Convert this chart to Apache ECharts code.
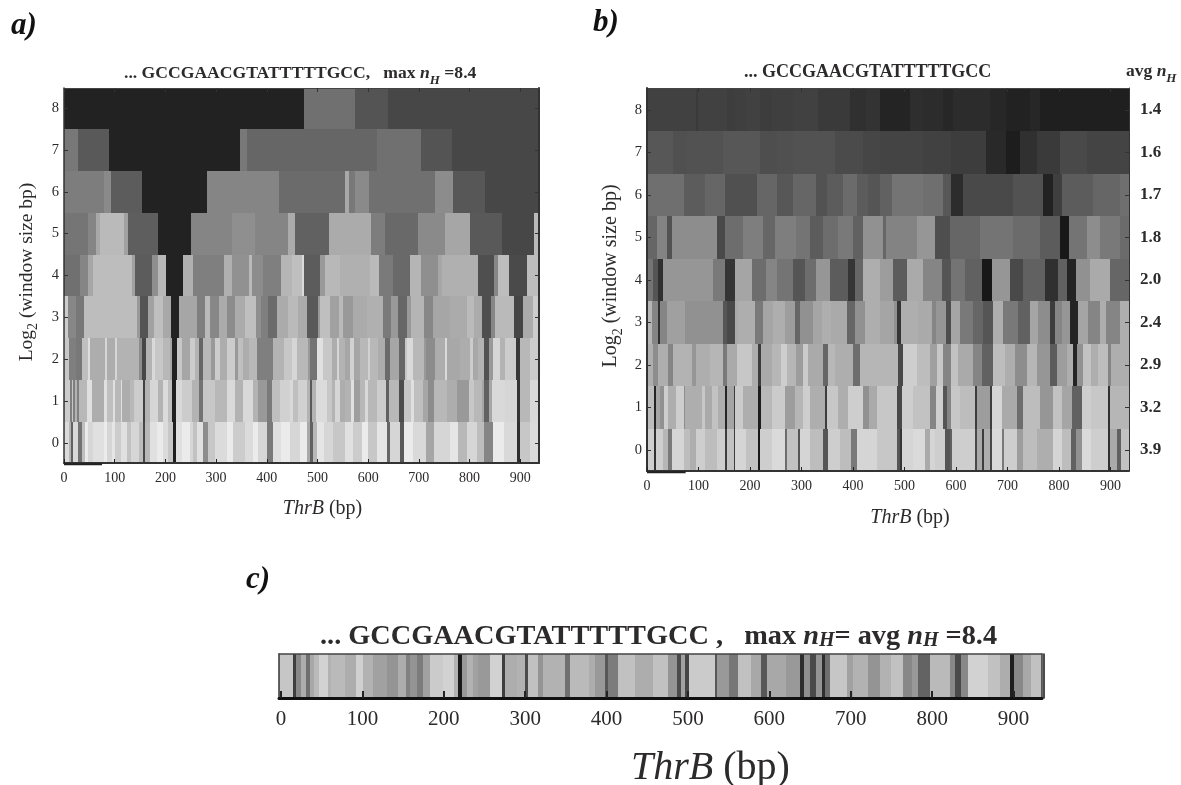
<!DOCTYPE html>
<html><head><meta charset="utf-8">
<style>html,body{margin:0;padding:0;background:#fff}#c{width:1181px;height:785px}</style>
<script src="https://cdn.jsdelivr.net/npm/echarts@6/dist/echarts.min.js"></script>
</head><body><div id="c"></div>
<script>
// Each row: pairs of (end position in bp, brightness level in percent)
const xTicks=[0,100,200,300,400,500,600,700,800,900];
const yTicks=[0,1,2,3,4,5,6,7,8];
const avgNh=['3.9','3.2','2.9','2.4','2.0','1.8','1.7','1.6','1.4'];
const stubEnd=[0,75];

const a8=[473,13.5, 574,44, 639,33, 937,28];
const a7=[28,47, 88,35, 347,13.5, 361,47, 617,40, 704,44, 766,33, 937,28];
const a6=[79,49, 93,54, 153,36, 283,13.5, 425,52, 554,42, 563,66, 574,47, 602,54, 732,44, 768,55, 830,34, 937,28];
const a5=[48,46, 63,52, 71,66, 118,73, 126,63, 185,37, 250,13.5, 331,52, 377,56, 442,52, 456,67, 523,38, 605,67, 633,49, 699,41, 751,54, 801,65, 864,35, 927,28, 937,73];
const a4=[32,44, 48,52, 57,65, 134,74, 140,63, 173,36, 185,56, 201,72, 235,13.5, 255,69, 316,50, 331,69, 365,57, 371,73, 393,55, 428,50, 450,71, 469,75, 473,86, 505,36, 515,60, 544,72, 604,69, 621,73, 649,48, 682,41, 704,71, 737,56, 746,65, 816,69, 848,31, 857,53, 878,74, 913,29, 937,74];
const a3=[8,80, 24,53, 39,47, 144,74, 150,60, 166,33, 178,63, 195,75, 211,66, 227,13.5, 262,65, 278,50, 288,73, 306,53, 321,67, 337,55, 358,67, 379,75, 388,56, 403,50, 420,42, 442,67, 461,73, 479,67, 501,35, 505,60, 525,75, 542,63, 550,73, 570,60, 598,67, 630,69, 645,48, 659,60, 676,40, 684,60, 710,71, 728,53, 761,65, 795,67, 809,73, 824,67, 842,31, 850,53, 874,73, 888,73, 905,27, 925,67, 937,80];
const a2=[10,78, 24,50, 35,47, 48,75, 51,87, 81,68, 84,84, 101,68, 104,84, 147,70, 153,55, 162,28, 173,70, 180,85, 196,78, 209,72, 214,65, 222,13, 232,78, 249,65, 258,80, 267,70, 274,40, 289,72, 298,60, 308,80, 321,68, 337,80, 344,60, 354,75, 364,68, 381,72, 413,50, 433,70, 449,78, 459,84, 482,72, 485,60, 500,45, 510,88, 528,78, 538,68, 543,84, 554,70, 564,65, 572,82, 583,65, 599,72, 604,82, 620,72, 633,68, 643,42, 661,65, 673,40, 677,78, 689,85, 711,72, 715,60, 732,55, 751,68, 756,85, 781,66, 801,68, 807,80, 817,66, 829,70, 838,32, 847,60, 860,84, 870,70, 891,80, 899,22, 919,72, 937,80];
const a1=[12,80, 15,50, 18,78, 22,50, 26,70, 30,50, 45,72, 55,88, 78,68, 85,88, 97,75, 101,88, 112,72, 115,88, 130,68, 138,72, 155,80, 160,25, 170,70, 186,84, 196,70, 206,86, 214,75, 221,12, 232,85, 252,80, 267,70, 275,45, 298,78, 321,72, 337,85, 354,70, 373,85, 383,70, 400,60, 410,48, 426,75, 446,82, 452,85, 462,75, 479,82, 485,70, 490,35, 498,70, 518,86, 528,78, 535,70, 544,84, 554,68, 567,70, 572,88, 584,62, 594,72, 600,85, 617,72, 635,80, 642,38, 661,72, 671,30, 684,78, 690,88, 709,75, 719,65, 729,55, 755,72, 775,68, 798,60, 808,78, 824,72, 829,65, 838,38, 844,65, 870,85, 893,84, 899,20, 919,72, 937,85];
const a0=[9,86, 14,70, 18,38, 28,85, 35,45, 41,75, 48,92, 58,84, 78,88, 85,92, 94,84, 101,90, 112,80, 124,88, 133,76, 147,84, 155,74, 160,28, 170,72, 183,88, 196,92, 206,86, 216,78, 220,12, 232,88, 249,92, 255,84, 263,76, 275,88, 285,55, 298,78, 321,86, 334,92, 357,80, 373,86, 383,92, 400,84, 412,48, 429,88, 446,92, 466,84, 479,92, 485,66, 491,38, 500,72, 512,90, 531,84, 554,78, 571,88, 587,80, 600,92, 618,78, 637,90, 643,40, 663,84, 671,35, 689,92, 715,85, 729,65, 761,84, 778,90, 794,72, 814,84, 829,74, 847,52, 867,92, 893,85, 899,18, 919,78, 937,86];
const aRows=[a0,a1,a2,a3,a4,a5,a6,a7,a8];

const b8=[96,27, 100,24, 155,27, 171,25, 193,26, 219,27, 242,25, 284,26, 333,27, 394,24, 426,20, 453,21, 511,15, 536,19, 575,18, 595,16, 666,18, 698,16, 744,14, 763,16, 937,13];
const b7=[51,36, 77,33, 148,34, 219,36, 252,32, 284,33, 365,34, 420,31, 453,29, 491,28, 536,28, 591,27, 659,25, 698,17, 724,12, 757,20, 802,24, 854,30, 937,28];
const b6=[71,46, 113,38, 151,42, 213,33, 252,42, 284,36, 329,42, 349,34, 381,38, 407,44, 430,38, 453,35, 475,40, 536,48, 575,46, 591,36, 614,18, 653,30, 711,30, 769,34, 789,14, 805,26, 867,38, 918,42, 937,46];
const b5=[19,42, 38,54, 48,34, 135,58, 151,30, 187,45, 226,52, 248,42, 290,52, 316,48, 342,38, 371,45, 400,50, 420,40, 459,60, 465,42, 524,54, 559,62, 588,32, 647,42, 711,48, 763,44, 802,38, 820,10, 854,48, 879,58, 918,50, 937,44];
const b4=[12,48, 22,35, 32,20, 129,62, 151,50, 171,22, 203,68, 232,45, 252,55, 284,48, 307,35, 329,45, 355,62, 391,38, 404,22, 420,42, 452,72, 478,65, 504,38, 536,70, 572,55, 591,35, 617,48, 650,40, 669,10, 705,62, 731,30, 773,40, 799,20, 815,40, 834,15, 860,60, 899,70, 937,42];
const b3=[9,75, 21,55, 25,20, 38,55, 74,66, 148,60, 155,35, 171,30, 177,70, 210,72, 226,50, 245,68, 268,72, 287,65, 298,42, 323,60, 339,68, 358,72, 388,70, 404,42, 423,60, 452,72, 480,68, 486,60, 494,22, 527,72, 553,70, 562,55, 581,62, 590,32, 608,68, 634,50, 653,42, 672,35, 692,72, 721,50, 744,40, 760,68, 782,58, 792,25, 805,55, 821,62, 837,15, 857,68, 879,55, 892,72, 918,55, 937,72];
const b2=[12,72, 22,58, 41,72, 51,55, 87,74, 96,62, 122,72, 148,75, 156,50, 174,70, 203,82, 216,72, 221,25, 242,70, 261,75, 272,85, 290,75, 303,65, 313,84, 342,70, 352,42, 365,76, 400,72, 413,45, 446,75, 488,75, 498,30, 524,85, 549,78, 564,66, 575,82, 591,55, 604,80, 634,70, 650,55, 672,40, 695,78, 714,72, 737,58, 757,75, 782,62, 797,38, 815,65, 828,72, 835,15, 847,60, 863,80, 876,72, 896,78, 902,55, 937,72];
const b1=[14,78, 17,15, 25,68, 33,60, 41,85, 56,72, 71,85, 74,58, 106,72, 113,82, 126,70, 138,80, 151,72, 155,15, 168,68, 171,25, 187,84, 216,72, 221,12, 242,76, 268,84, 287,65, 303,75, 316,85, 345,72, 350,25, 371,82, 391,72, 420,85, 432,60, 446,70, 485,82, 496,30, 517,85, 549,80, 561,55, 575,85, 582,35, 591,55, 608,82, 637,78, 641,25, 666,65, 670,25, 689,88, 718,70, 731,45, 763,78, 789,62, 805,80, 826,68, 844,40, 863,85, 896,82, 900,20, 937,75];
const b0=[14,85, 17,20, 32,85, 41,75, 48,50, 71,88, 83,78, 96,72, 113,85, 135,78, 151,85, 155,25, 169,80, 171,25, 193,88, 216,80, 220,10, 242,85, 268,90, 271,45, 294,80, 298,35, 316,88, 342,78, 352,35, 375,85, 397,78, 407,50, 446,88, 485,82, 491,35, 496,22, 517,88, 540,90, 549,70, 559,88, 579,85, 588,35, 593,40, 637,85, 641,30, 650,70, 654,25, 666,72, 670,30, 689,90, 693,50, 718,85, 731,65, 757,78, 789,72, 805,88, 824,78, 834,40, 844,60, 863,90, 896,85, 900,20, 913,70, 920,40, 937,80];
const bRows=[b0,b1,b2,b3,b4,b5,b6,b7,b8];

const c0=[15,80, 19,25, 25,55, 31,70, 35,45, 41,68, 47,75, 58,85, 62,72, 79,75, 92,70, 101,84, 113,72, 130,65, 144,60, 154,70, 158,52, 159,15, 167,60, 175,50, 183,65, 199,82, 212,85, 218,72, 222,10, 228,62, 236,72, 242,65, 257,62, 272,85, 275,25, 290,70, 300,72, 303,30, 316,78, 322,60, 349,72, 355,45, 378,75, 386,70, 398,62, 402,35, 414,50, 435,78, 457,70, 476,78, 486,60, 492,30, 496,65, 501,28, 533,82, 536,35, 550,62, 562,48, 578,78, 590,68, 597,35, 621,68, 638,62, 642,18, 650,58, 657,30, 665,60, 668,18, 674,45, 695,80, 703,65, 721,72, 736,60, 750,72, 764,78, 775,55, 783,62, 797,40, 822,75, 828,55, 836,30, 844,55, 869,85, 883,78, 896,70, 900,12, 912,55, 922,68, 937,78];
const cRows=[c0];

const FONT='"Liberation Serif","Times New Roman",serif';
const INK='#2c2a2b';

function cellsOf(rows,start,gain){
  const out=[];
  rows.forEach((row,r)=>{
    let x0=start;
    for(let i=0;i<row.length;i+=2){ out.push([x0,row[i],r,row[i+1]*gain]); x0=row[i]; }
  });
  return out;
}
function grey(l){const v=Math.round(l*2.55);return 'rgb('+v+','+v+','+v+')';}
function stripRender(params,api){
  const y=api.value(2);
  const p0=api.coord([api.value(0),y+0.5]);
  const p1=api.coord([api.value(1),y-0.5]);
  const x=Math.round(p0[0]),w=Math.round(p1[0])-x;
  return {type:'rect',shape:{x:x,y:Math.round(p0[1]),width:w,height:Math.round(p1[1])-Math.round(p0[1])},
    style:{fill:grey(api.value(3))}};
}
function cellSeries(idx,data){
  return {type:'custom',xAxisIndex:idx.x,yAxisIndex:idx.y,data:data,renderItem:stripRender,
    encode:{x:[0,1],y:2},clip:true,progressive:0,silent:true,z:1};
}
function rich(sz,extra){
  const lh=sz+extra;
  return {
    b:{fontFamily:FONT,fontWeight:'bold',fontSize:sz,color:INK,lineHeight:lh,verticalAlign:'top'},
    i:{fontFamily:FONT,fontWeight:'bold',fontStyle:'italic',fontSize:sz,color:INK,lineHeight:lh,verticalAlign:'top'},
    s:{fontFamily:FONT,fontWeight:'bold',fontStyle:'italic',fontSize:Math.round(sz*.72),color:INK,lineHeight:Math.round(sz*.72),verticalAlign:'bottom'}
  };
}
function nameRich(sz){
  return {
    r:{fontFamily:FONT,fontSize:sz,color:INK,lineHeight:sz+4,verticalAlign:'top'},
    t:{fontFamily:FONT,fontStyle:'italic',fontSize:sz,color:INK,lineHeight:sz+4,verticalAlign:'top'},
    s:{fontFamily:FONT,fontSize:Math.round(sz*.7),color:INK,lineHeight:Math.round(sz*.7),verticalAlign:'bottom'}
  };
}
function title(text,left,top,sz,extra){
  return {text:text,left:left,top:top,padding:0,textStyle:{rich:rich(sz,extra===undefined?6:extra),fontFamily:FONT,fontWeight:'bold',fontSize:sz,color:INK}};
}
function partLabel(text,left,top){
  return {text:text,left:left,top:top,padding:0,textStyle:{fontFamily:FONT,fontWeight:'bold',fontStyle:'italic',fontSize:31,color:'#111'}};
}
const line=(w,c)=>({show:true,onZero:false,lineStyle:{color:c||'#333',width:w}});
function xPair(g,min,max,o){
  return [
    {type:'value',gridIndex:g,position:'bottom',z:5,min:min,max:max,name:'{t|ThrB} {r|(bp)}',nameLocation:'middle',nameGap:o.nameGap,
     nameTextStyle:{rich:nameRich(o.nameSize),fontFamily:FONT,fontSize:o.nameSize,padding:[0,0,0,o.nameShift]},
     axisLine:line(o.lineW,o.lineC),splitLine:{show:false},
     axisTick:{show:true,inside:true,length:o.tick,lineStyle:{color:'#222',width:o.tickW},customValues:xTicks},
     axisLabel:{show:true,customValues:xTicks,margin:o.labelMargin,fontFamily:FONT,fontSize:o.labelSize,color:INK,showMinLabel:true,showMaxLabel:true,hideOverlap:false}},
    {type:'value',gridIndex:g,position:'top',z:5,min:min,max:max,
     axisLine:line(o.topW,'#444'),splitLine:{show:false},axisLabel:{show:false},
     axisTick:{show:o.topTick,inside:true,length:4,lineStyle:{color:'#333',width:1},customValues:xTicks}}
  ];
}
function yPair(g,min,max,o){
  return [
    {type:'value',gridIndex:g,position:'left',z:5,min:min,max:max,name:'{r|Log}{s|2}{r| (window size bp)}',nameLocation:'middle',nameRotate:90,nameGap:o.nameGap,
     nameTextStyle:{rich:nameRich(o.nameSize),fontFamily:FONT,fontSize:o.nameSize,padding:[0,0,0,7]},
     axisLine:line(o.leftW),splitLine:{show:false},
     axisTick:{show:true,inside:true,length:4,lineStyle:{color:'#333',width:1},customValues:yTicks},
     axisLabel:{show:true,customValues:yTicks,margin:5,fontFamily:FONT,fontSize:14.5,color:INK,showMinLabel:true,showMaxLabel:true}},
    {type:'value',gridIndex:g,position:'right',z:5,min:min,max:max,
     axisLine:line(o.rightW),splitLine:{show:false},
     axisTick:{show:true,inside:true,length:4,lineStyle:{color:'#333',width:1},customValues:yTicks},
     axisLabel:o.rightLabels?{show:true,customValues:yTicks,margin:11,fontFamily:FONT,fontWeight:'bold',fontSize:17,color:INK,
        formatter:v=>avgNh[v]}:{show:false}}
  ];
}
const chart=echarts.init(document.getElementById('c'),null,{renderer:'canvas'});
const aMin=-0.48,aMax=8.48,bMin=-0.5,bMax=8.52;
const stub=(xi,yi,y)=>({type:'line',xAxisIndex:xi,yAxisIndex:yi,data:stubEnd.map(v=>[v,y]),showSymbol:false,symbol:'none',clip:false,silent:true,z:6,
  lineStyle:{color:'#222',width:2}});
chart.setOption({
  animation:false,
  backgroundColor:'#fff',
  title:[
    partLabel('a)',11,10),
    partLabel('b)',593,7),
    partLabel('c)',246,564),
    title('{b|... GCCGAACGTATTTTTGCC,   max }{i|n}{s|H}{b| =8.4}',124,64,17.6),
    title('{b|... GCCGAACGTATTTTTGCC}',744,63,18),
    title('{b|avg }{i|n}{s|H}',1126,62,17.5),
    title('{b|... GCCGAACGTATTTTTGCC ,   max }{i|n}{s|H}{b|= avg }{i|n}{s|H}{b| =8.4}',320,623,28.3,0)
  ],
  grid:[
    {left:64,top:88,width:475,height:375,outerBoundsMode:'none'},
    {left:647,top:88,width:482,height:383,outerBoundsMode:'none'},
    {left:279,top:654,width:763,height:44,outerBoundsMode:'none'}
  ],
  xAxis:[
    ...xPair(0,0,937,{nameGap:36,nameSize:20,nameShift:42,lineW:2,tick:4,tickW:1,labelMargin:8,labelSize:14,topW:1,topTick:true}),
    ...xPair(1,0,936,{nameGap:37,nameSize:20,nameShift:44,lineW:2,tick:4,tickW:1,labelMargin:8,labelSize:14,topW:1,topTick:true}),
    ...xPair(2,-2.5,935,{nameGap:50,nameSize:40,nameShift:100,lineW:3,lineC:'#111',tick:7,tickW:2,labelMargin:11,labelSize:21,topW:1.5,topTick:false})
  ],
  yAxis:[
    ...yPair(0,aMin,aMax,{nameGap:24,nameSize:19.5,leftW:1.5,rightW:2,rightLabels:false}),
    ...yPair(1,bMin,bMax,{nameGap:22,nameSize:20,leftW:2,rightW:1,rightLabels:true}),
    {type:'value',gridIndex:2,position:'left',z:5,min:-0.5,max:0.5,axisLine:line(1.5,'#333'),axisTick:{show:false},axisLabel:{show:false},splitLine:{show:false}},
    {type:'value',gridIndex:2,position:'right',z:5,min:-0.5,max:0.5,axisLine:line(1.5,'#333'),axisTick:{show:false},axisLabel:{show:false},splitLine:{show:false}},
    {type:'value',gridIndex:2,position:'right',z:5,offset:2,min:-0.5,max:0.5,axisLine:line(1.5,'#111'),axisTick:{show:false},axisLabel:{show:false},splitLine:{show:false}}
  ],
  series:[
    cellSeries({x:0,y:0},cellsOf(aRows,0,1)),
    cellSeries({x:2,y:2},cellsOf(bRows,0,0.95)),
    cellSeries({x:4,y:4},cellsOf(cRows,-2.5,0.97)),
    stub(0,0,aMin-0.03),
    stub(2,2,bMin-0.03)
  ]
});
</script></body></html>
